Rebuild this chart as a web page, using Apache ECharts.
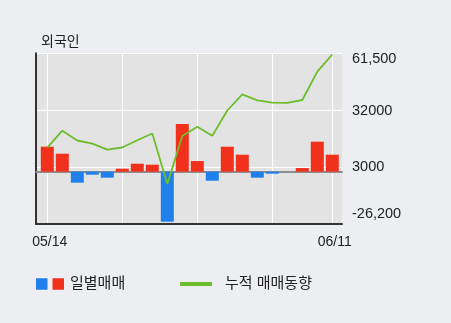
<!DOCTYPE html>
<html>
<head>
<meta charset="utf-8">
<script src="https://cdn.jsdelivr.net/npm/echarts@6/dist/echarts.min.js"></script>
<style>
html,body{margin:0;padding:0;background:#eceef2;}
#c{width:451px;height:323px;}
</style>
</head>
<body>
<div id="c"></div>
<script>
const dates = ['05/14','05/15','05/16','05/17','05/20','05/21','05/22','05/23','05/24','05/27','05/28','05/29','05/30','05/31','06/03','06/04','06/05','06/07','06/10','06/11'];
const daily = [12850, 9250, -5650, -1540, -3080, 1540, 4110, 3600, -25700, 24500, 5480, -4625, 12850, 8740, -3080, -1030, 0, 1880, 15420, 8740];
const cumulative = [13000, 21730, 16700, 15050, 12020, 13100, 16800, 20300, -5650, 19000, 23740, 19160, 32110, 40430, 37350, 36170, 36070, 37510, 52050, 60880];
const yTicks = [-26200, 3000, 32000, 61500];
const yTickLabels = ['-26,200', '3000', '32000', '61,500'];
const yMin = -26200, yMax = 61500;
const barMin = -26870, barMax = 60830;

const BLUE = '#1f80ec', RED = '#f1311c', GREEN = '#6cbe2d';
const FONT = "'Liberation Sans', 'Noto Sans CJK KR', sans-serif";

const chart = echarts.init(document.getElementById('c'), null, {renderer: 'canvas'});
const option = {
  backgroundColor: '#eceef2',
  animation: false,
  textStyle: {fontFamily: FONT},
  title: {
    text: '외국인', left: 36, top: 30,
    textStyle: {fontSize: 14, fontWeight: 'normal', color: '#222', fontFamily: FONT}
  },
  grid: [
    {left: 36, top: 53.3, width: 306, height: 170.7, show: true, backgroundColor: '#e3e3e3', borderWidth: 0},
    {left: 47.3, top: 53.3, width: 285, height: 170.7}
  ],
  xAxis: [
    {gridIndex: 0, type: 'value', min: 0, max: 1, position: 'bottom',
     axisLine: {show: true, onZero: false, lineStyle: {color: '#333', width: 2}},
     axisTick: {show: false}, axisLabel: {show: false}, splitLine: {show: false}},
    {gridIndex: 0, type: 'value', min: 0, max: 1, position: 'top',
     axisLine: {show: true, onZero: true, onZeroAxisIndex: 1, lineStyle: {color: '#8e8e8e', width: 2}},
     axisTick: {show: false}, axisLabel: {show: false}, splitLine: {show: false}, z: 1},
    {gridIndex: 1, type: 'category', data: dates, boundaryGap: false,
     axisLine: {show: false}, axisTick: {show: false},
     axisLabel: {
       interval: (i) => i === 0 || i === dates.length - 1,
       fontSize: 14, color: '#222', margin: 11, padding: [0, 0, 0, 5], fontFamily: FONT
     },
     splitLine: {show: true, interval: (i) => i % 5 === 0 || i === dates.length - 1,
       lineStyle: {color: '#ffffff', width: 1}}}
  ],
  yAxis: [
    {gridIndex: 0, type: 'value', min: yMin, max: yMax, position: 'right',
     axisLine: {show: false}, axisTick: {show: false, customValues: yTicks},
     axisLabel: {
       customValues: yTicks, margin: 10, fontSize: 14.5, color: '#222', fontFamily: FONT,
       formatter: (v) => {
         const i = yTicks.indexOf(v);
         const s = i >= 0 ? yTickLabels[i] : '';
         if (v === yMax) return '{top|' + s + '}';
         if (v === yMin) return '{bot|' + s + '}';
         return s;
       },
       rich: {
         top: {fontSize: 14.5, color: '#222', padding: [12, 0, 0, 0], fontFamily: FONT},
         bot: {fontSize: 14.5, color: '#222', padding: [0, 0, 20, 0], fontFamily: FONT}
       }
     },
     splitLine: {show: true, lineStyle: {color: '#ffffff', width: 1}}},
    {gridIndex: 0, type: 'value', min: barMin, max: barMax, position: 'left',
     axisLine: {show: true, onZero: false, lineStyle: {color: '#333', width: 2}},
     axisTick: {show: false}, axisLabel: {show: false}, splitLine: {show: false}},
    {gridIndex: 1, type: 'value', min: yMin, max: yMax, show: false, splitLine: {show: false}},
    {gridIndex: 1, type: 'value', min: barMin, max: barMax, show: false, splitLine: {show: false}}
  ],
  legend: [
    {left: 36, top: 276.5, padding: 0, icon: 'rect', itemWidth: 11.5, itemHeight: 11.5,
     data: [{name: '일별매매', itemStyle: {color: BLUE}}],
     formatter: (n) => '{r|}{sp|}{t|' + n + '}',
     textStyle: {
       fontSize: 15, color: '#222', fontFamily: FONT,
       rich: {
         r: {width: 11.5, height: 11.5, backgroundColor: RED},
         sp: {width: 6},
         t: {fontSize: 15, color: '#222', fontFamily: FONT}
       }
     }},
    {left: 180, top: 276.5, padding: 0, icon: 'rect', itemWidth: 32, itemHeight: 4,
     data: [{name: '누적 매매동향', itemStyle: {color: GREEN}}],
     textStyle: {fontSize: 15, color: '#222', fontFamily: FONT, padding: [0, 0, 0, 8]}}
  ],
  series: [
    {name: '일별매매', type: 'bar', xAxisIndex: 2, yAxisIndex: 3, data: daily,
     barWidth: 13, clip: false,
     itemStyle: {color: (p) => p.value < 0 ? BLUE : RED}},
    {name: '누적 매매동향', type: 'line', xAxisIndex: 2, yAxisIndex: 2, data: cumulative,
     symbol: 'none', clip: false, z: 3,
     lineStyle: {color: GREEN, width: 1.8}, itemStyle: {color: GREEN}}
  ]
};
chart.setOption(option);
</script>
</body>
</html>
